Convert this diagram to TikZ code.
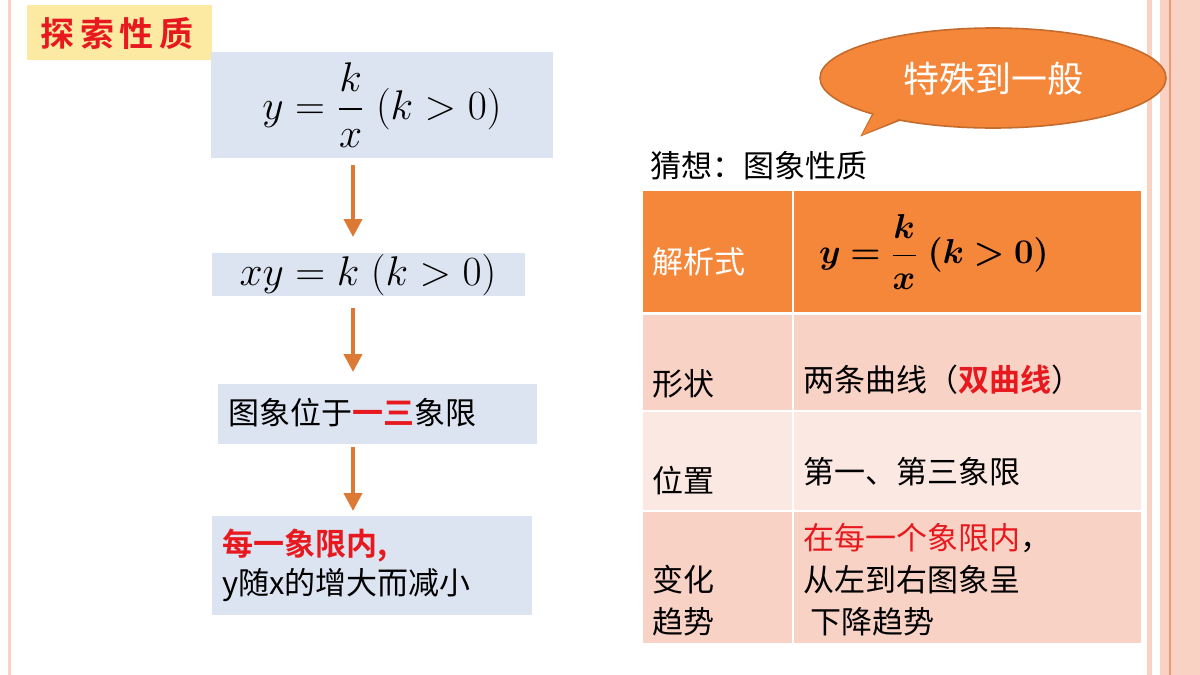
\documentclass[tikz,border=0pt]{standalone}
\usepackage{amsmath,bm}
\usepackage{fontspec}
\setmainfont{Noto Sans CJK SC}
\newfontfamily\cjkb{Noto Sans CJK SC Bold}
\usetikzlibrary{arrows.meta}
\definecolor{boxblue}{HTML}{DCE3F1}
\definecolor{orng}{HTML}{F5873A}
\definecolor{rowa}{HTML}{F9D2C6}
\definecolor{rowb}{HTML}{FCE8E2}
\definecolor{stripe}{HTML}{F9D2C4}
\definecolor{stripeline}{HTML}{EC9A78}
\definecolor{redt}{HTML}{E8191E}
\definecolor{ttl}{HTML}{FCE9A2}
\tikzset{
 farrow/.style={-{Triangle[length=9pt,width=9pt]},line width=2pt,draw=orng!90!black},
 txt/.style={anchor=west,inner sep=0pt,font=\fontsize{15.5}{18}\selectfont},
}
\begin{document}
\begin{tikzpicture}[x=0.5pt,y=-0.5pt]
\useasboundingbox (0,0) rectangle (1200,675);
\fill[white] (0,0) rectangle (1200,675);
% borders
\fill[stripe] (8,0) rectangle (11,675);
\fill[stripe] (1147,0) rectangle (1152,675);
\fill[stripe] (1160,0) rectangle (1200,675);
\draw[stripeline,line width=0.6pt] (1170,0) -- (1170,675);
% title
\fill[ttl] (27,5) rectangle (212,60);
\node[font=\cjkb\fontsize{17}{19}\selectfont,text=redt] (titlet) at (117,33) {探\,索\,性\,质};
% left boxes
\fill[boxblue] (211,52) rectangle (553,158);
\node (b1) at (382,105) {\fontsize{21}{24}\selectfont$y=\dfrac{k}{x}\;(k>0)$};
\fill[boxblue] (212,253) rectangle (525,296);
\node (b2) at (368,275) {\fontsize{21}{24}\selectfont$xy=k\;(k>0)$};
\fill[boxblue] (218,384) rectangle (537,444);
\node[txt] (b3) at (228,413) {图象位于\textcolor{redt}{\cjkb 一三}象限};
\fill[boxblue] (212,516) rectangle (532,615);
\node[txt] (b4a) at (222,546) {\textcolor{redt}{\cjkb 每一象限内,}};
\node[txt] (b4b) at (222,585) {y随x的增大而减小};
\draw[farrow] (353,165) -- (353,237);
\draw[farrow] (353,308) -- (353,372);
\draw[farrow] (353,447) -- (353,511);
% callout
\fill[orng,draw=orng!80!black,line width=0.8pt] (905,118) -- (862,135) -- (875,110) -- cycle;
\draw[orng!80!black,line width=0.8pt,fill=orng] (993,78) ellipse [x radius=173,y radius=50];
\fill[orng] (905,116) -- (862,135) -- (877,108) -- cycle;
\node[text=white,font=\fontsize{18}{20}\selectfont] (call) at (993,79) {特殊到一般};
% table
\node[txt] (cap) at (650,166) {猜想：图象性质};
\fill[orng] (643,191) rectangle (1141,312);
\fill[rowa] (643,315) rectangle (1141,410);
\fill[rowb] (643,412) rectangle (1141,510);
\fill[rowa] (643,512) rectangle (1141,643);
\draw[white,line width=1pt] (793,191) -- (793,643);
\node[txt,text=white] (h1) at (652,262) {解析式};
\node (h2) at (934,252) {\fontsize{17}{20}\selectfont$\bm{y=\dfrac{k}{x}\;(k>0)}$};
\node[txt] (r1a) at (652,384) {形状};
\node[txt] (r1b) at (803,380) {两条曲线（\textcolor{redt}{\cjkb 双曲线}）};
\node[txt] (r2a) at (652,481) {位置};
\node[txt] (r2b) at (803,472) {第一、第三象限};
\node[txt] (r3a) at (652,580) {变化};
\node[txt] (r3b) at (652,622) {趋势};
\node[txt] (r3c) at (803,538) {\textcolor{redt}{在每一个象限内}，};
\node[txt] (r3d) at (803,580) {从左到右图象呈};
\node[txt] (r3e) at (803,622) {\ 下降趋势};
\end{tikzpicture}
\end{document}
